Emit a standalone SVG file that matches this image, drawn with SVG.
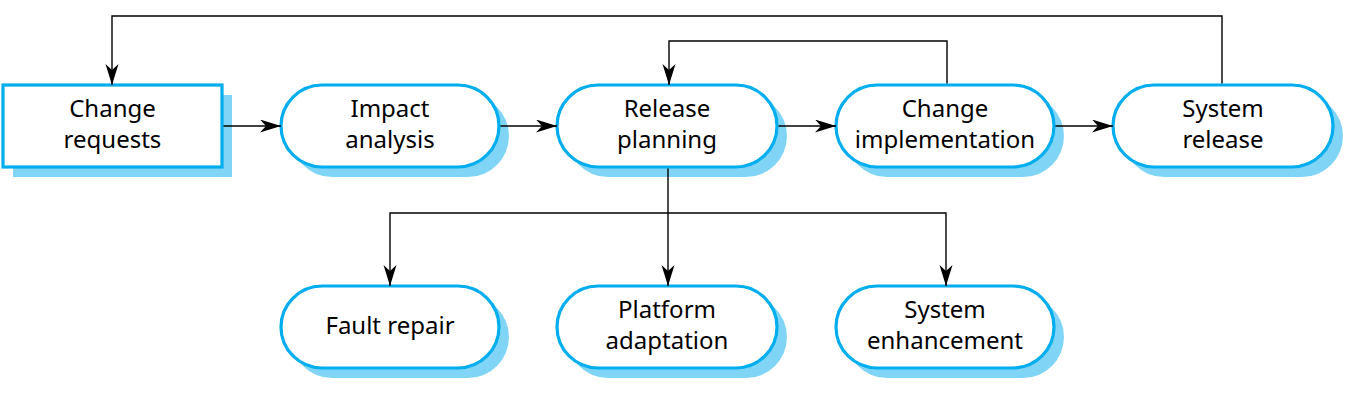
<svg xmlns="http://www.w3.org/2000/svg" width="1362" height="405" viewBox="0 0 1362 405">
<defs>
<marker id="ah" markerUnits="userSpaceOnUse" markerWidth="22" markerHeight="14" refX="21" refY="6.5" orient="auto">
<path d="M0,0 L21,6.5 L0,13 L6,6.5 z" fill="#000"/>
</marker>
</defs>
<style>
.shadow{fill:#80d5f7;stroke:none}
.node{fill:#fff;stroke:#00aeef;stroke-width:3.2}
.lbl{font-family:"Noto Sans","Open Sans",sans-serif;font-size:24px;fill:#000;text-anchor:middle}
.conn{fill:none;stroke:#000;stroke-width:1.4;marker-end:url(#ah)}
</style>
<rect width="1362" height="405" fill="#fff"/>
<g id="change-requests">
<rect class="shadow" x="13" y="95" width="219" height="82"/>
<rect class="node" x="3" y="85" width="219" height="82"/>
<text class="lbl" x="112.5" y="117">Change</text>
<text class="lbl" x="112.5" y="148">requests</text>
</g>
<g id="impact-analysis">
<rect class="shadow" x="291" y="95" width="218" height="82" rx="41"/>
<rect class="node" x="281" y="85" width="218" height="82" rx="41"/>
<text class="lbl" x="390" y="117">Impact</text>
<text class="lbl" x="390" y="148">analysis</text>
</g>
<g id="release-planning">
<rect class="shadow" x="567" y="95" width="220" height="82" rx="41"/>
<rect class="node" x="557" y="85" width="220" height="82" rx="41"/>
<text class="lbl" x="667" y="117">Release</text>
<text class="lbl" x="667" y="148">planning</text>
</g>
<g id="change-implementation">
<rect class="shadow" x="846" y="95" width="218" height="82" rx="41"/>
<rect class="node" x="836" y="85" width="218" height="82" rx="41"/>
<text class="lbl" x="945" y="117">Change</text>
<text class="lbl" x="945" y="148">implementation</text>
</g>
<g id="system-release">
<rect class="shadow" x="1123" y="95" width="220" height="82" rx="41"/>
<rect class="node" x="1113" y="85" width="220" height="82" rx="41"/>
<text class="lbl" x="1223" y="117">System</text>
<text class="lbl" x="1223" y="148">release</text>
</g>
<g id="fault-repair">
<rect class="shadow" x="291" y="296" width="218" height="82" rx="41"/>
<rect class="node" x="281" y="286" width="218" height="82" rx="41"/>
<text class="lbl" x="390" y="334">Fault repair</text>
</g>
<g id="platform-adaptation">
<rect class="shadow" x="567" y="296" width="220" height="82" rx="41"/>
<rect class="node" x="557" y="286" width="220" height="82" rx="41"/>
<text class="lbl" x="667" y="318">Platform</text>
<text class="lbl" x="667" y="349">adaptation</text>
</g>
<g id="system-enhancement">
<rect class="shadow" x="846" y="296" width="218" height="82" rx="41"/>
<rect class="node" x="836" y="286" width="218" height="82" rx="41"/>
<text class="lbl" x="945" y="318">System</text>
<text class="lbl" x="945" y="349">enhancement</text>
</g>
<g id="connectors">
<path class="conn" d="M1222,83.5 V16 H112 V85"/>
<path class="conn" d="M947,83.5 V41 H669 V85"/>
<path class="conn" d="M223.5,126 H281"/>
<path class="conn" d="M500.5,126 H557"/>
<path class="conn" d="M778.5,126 H836"/>
<path class="conn" d="M1055.5,126 H1113"/>
<path class="conn" d="M668,168.5 V286"/>
<path class="conn" d="M668,213 H390 V286"/>
<path class="conn" d="M668,213 H946 V286"/>
</g>
</svg>
